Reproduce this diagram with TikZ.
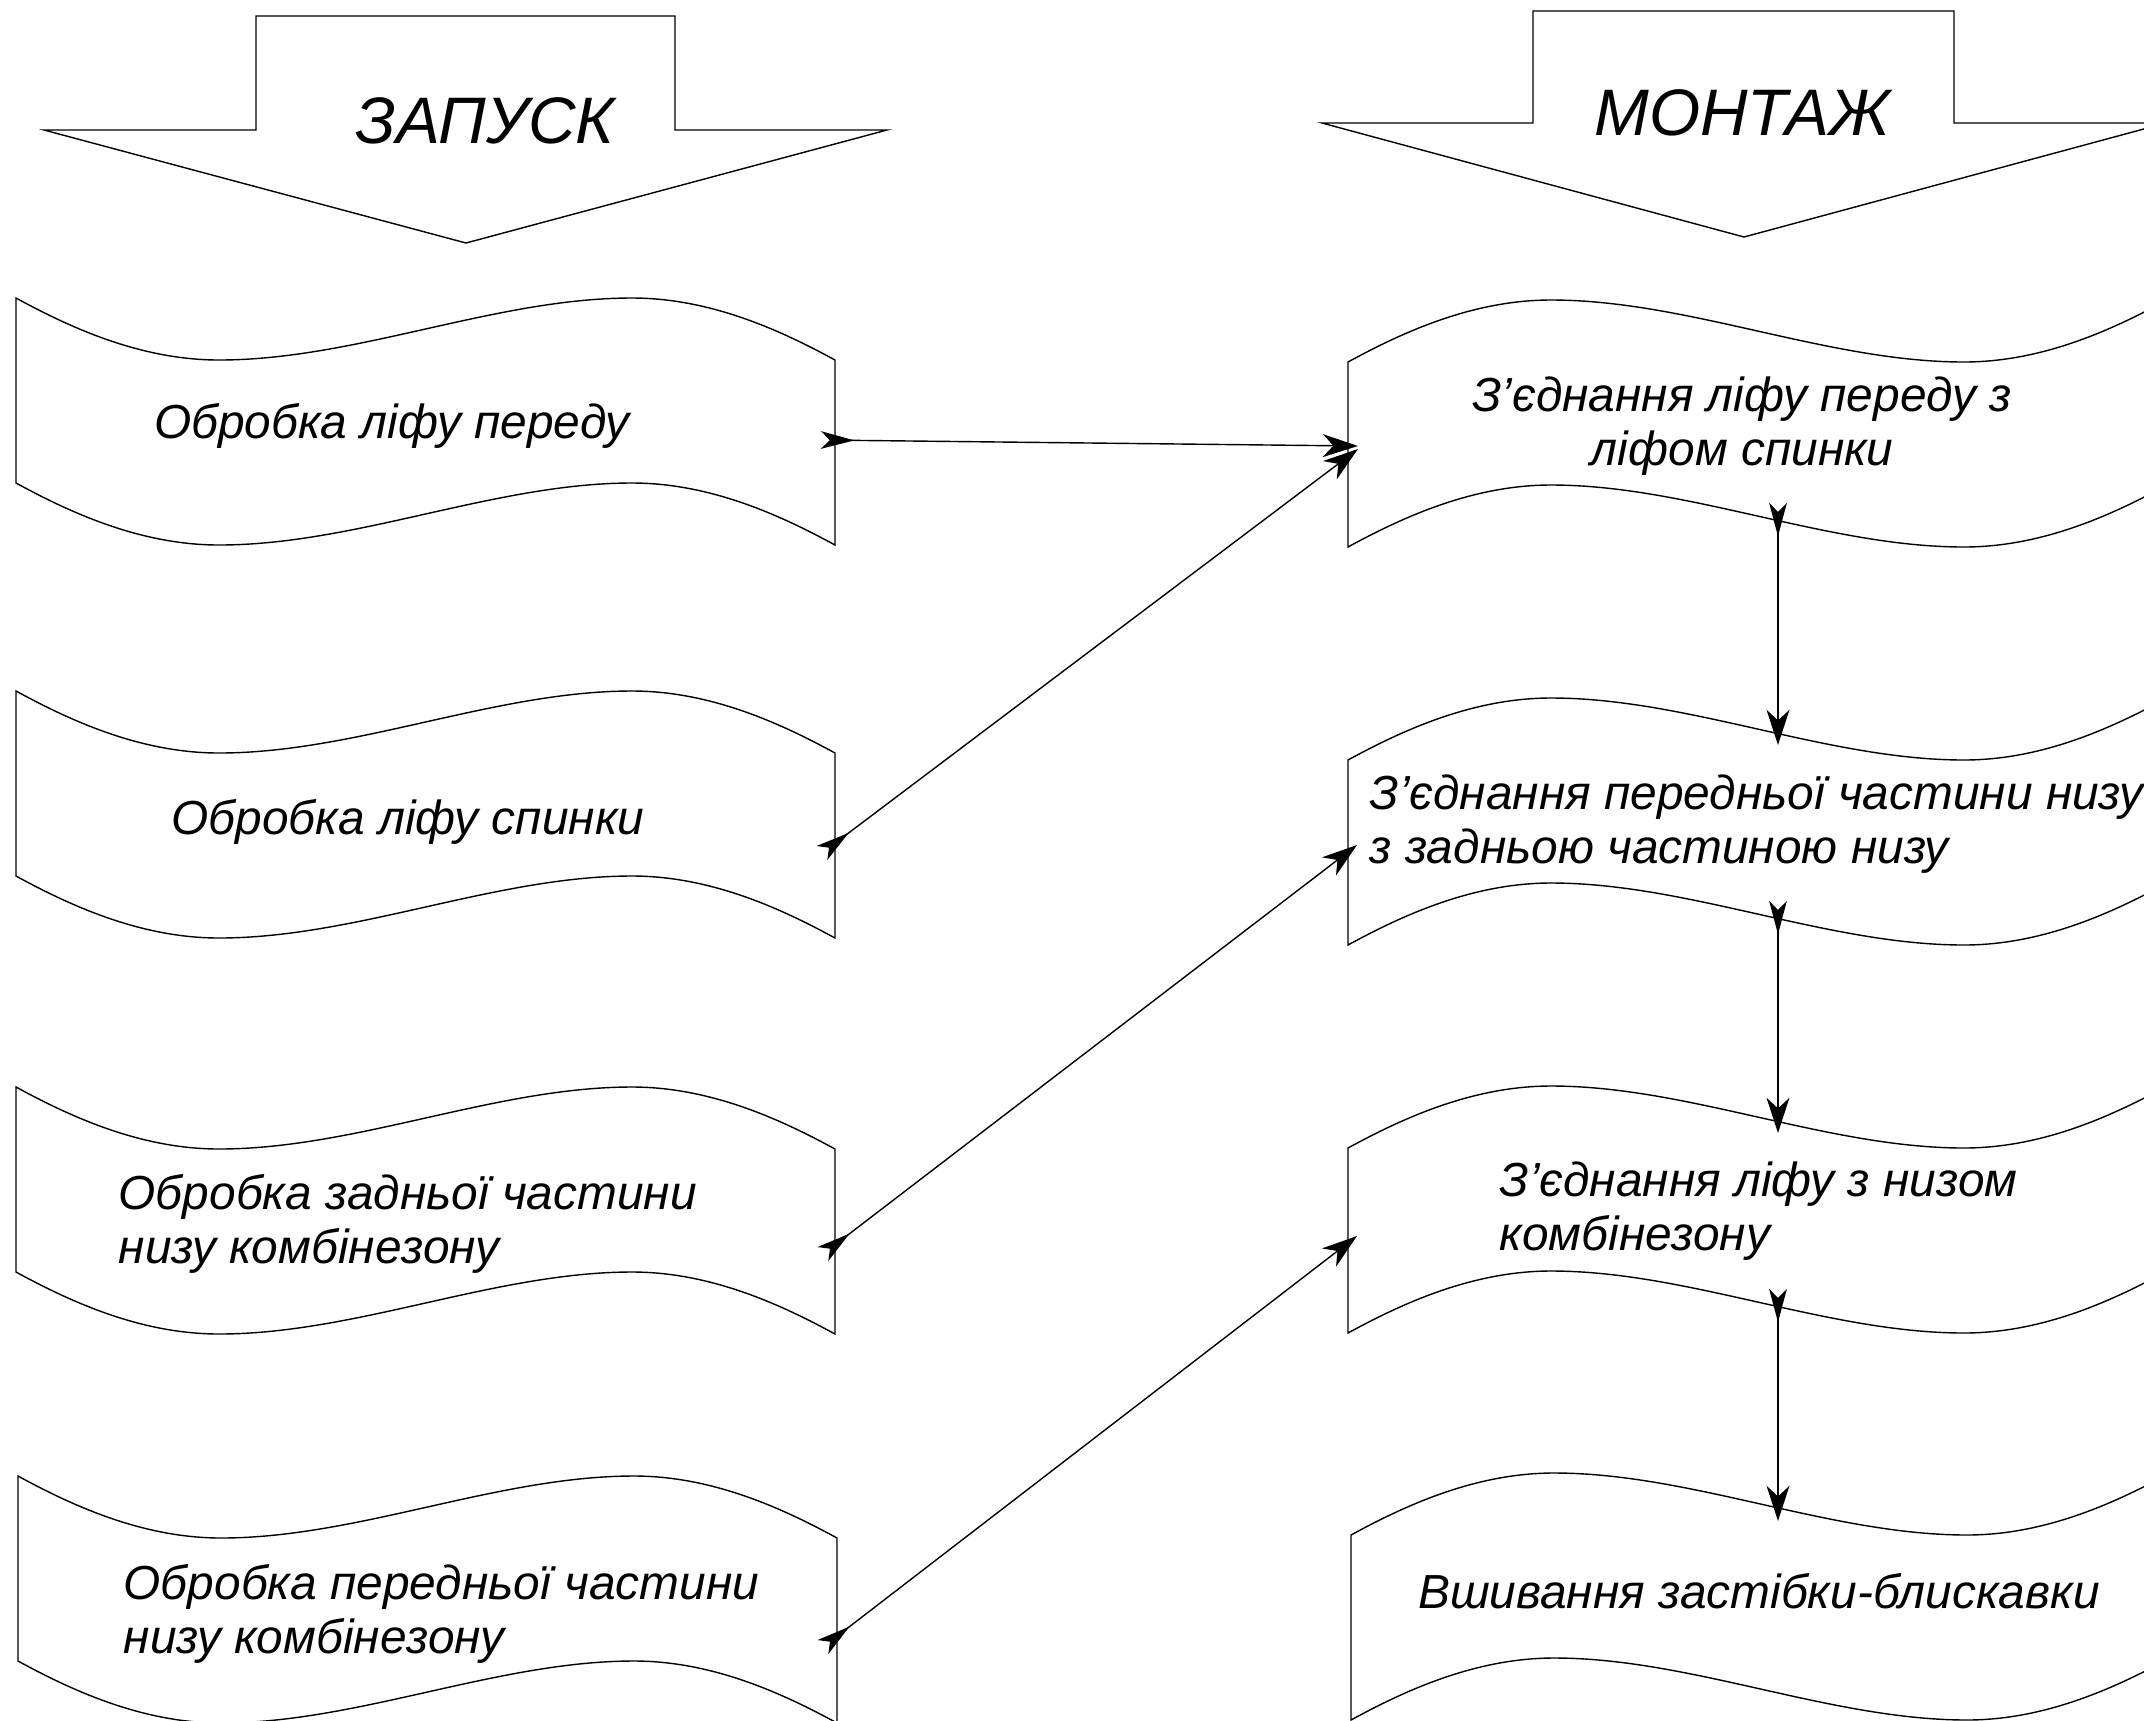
\documentclass[tikz,border=0pt]{standalone}
\usepackage{fontspec}
\setmainfont{Liberation Sans}
\usetikzlibrary{arrows.meta}
\newcommand\tapeleft[1]{%
  \draw[shp,shift={#1}] (0,0) .. controls (55,30) and (125,62) .. (203,62)
    .. controls (340,62) and (479,0) .. (616,0)
    .. controls (694,0) and (764,32) .. (819,62)
    -- (819,247)
    .. controls (764,217) and (694,185) .. (616,185)
    .. controls (479,185) and (340,247) .. (203,247)
    .. controls (125,247) and (55,215) .. (0,185)
    -- cycle;}
\newcommand\taperight[1]{%
  \draw[shp,shift={#1}] (0,62) .. controls (55,32) and (125,0) .. (203,0)
    .. controls (340,0) and (479,62) .. (616,62)
    .. controls (694,62) and (764,30) .. (819,0)
    -- (819,185)
    .. controls (764,215) and (694,247) .. (616,247)
    .. controls (479,247) and (340,185) .. (203,185)
    .. controls (125,185) and (55,217) .. (0,247)
    -- cycle;}
\begin{document}
\begin{tikzpicture}[x=0.01cm,y=-0.01cm,
  shp/.style={draw=black, line width=0.4pt, fill=white},
  conn/.style={draw=black, line width=0.4pt,
    {Stealth[reversed,length=9.5pt,width=5pt,inset=2.5pt,line width=0.6pt]}-{Stealth[length=10pt,width=6.5pt,inset=3pt,line width=0.6pt]}},
  lbl/.style={font=\fontsize{13.6}{15.2}\selectfont\itshape, inner sep=0pt},
  ttl/.style={font=\fontsize{18.7}{22}\selectfont\itshape, inner sep=0pt}]
\useasboundingbox (0,0) rectangle (2144,1720);
\clip (0,0) rectangle (2144,1720);
\fill[white] (0,0) rectangle (2144,1720);

% block arrows
\draw[shp] (256,16) -- (675,16) -- (675,130) -- (887,130) -- (466,243) -- (44,130) -- (256,130) -- cycle;
\draw[shp] (1533,11) -- (1954,11) -- (1954,123) -- (2166,123) -- (1744,237) -- (1322,123) -- (1533,123) -- cycle;
\node[ttl, anchor=base] (zap) at (485,143) {ЗАПУСК};
\node[ttl, anchor=base] (mon) at (1742,135) {МОНТАЖ};

% left tapes
\tapeleft{(16,298)}
\tapeleft{(16,691)}
\tapeleft{(16,1087)}
\tapeleft{(18,1476)}
% right tapes
\taperight{(1348,300)}
\taperight{(1348,698)}
\taperight{(1348,1086)}
\taperight{(1351,1473)}

% labels (multi-line nodes: base = last line)
\node[lbl, anchor=base] (L1) at (392,438) {Обробка ліфу переду};
\node[lbl, anchor=base] (L2) at (408,834) {Обробка ліфу спинки};
\node[lbl, anchor=base west, align=left] (L3) at (118,1263) {Обробка задньої частини\\низу комбінезону};
\node[lbl, anchor=base west, align=left] (L4) at (123,1653) {Обробка передньої частини\\низу комбінезону};
\node[lbl, anchor=base, align=center] (R1) at (1742,465) {З’єднання ліфу переду з\\ліфом спинки};
\node[lbl, anchor=base west, align=left] (R2) at (1369,863) {З’єднання передньої частини низу\\з задньою частиною низу};
\node[lbl, anchor=base west, align=left] (R3) at (1499,1250) {З’єднання ліфу з низом\\комбінезону};
\node[lbl, anchor=base] (R4) at (1759,1608) {Вшивання застібки-блискавки};

% connector end points
\coordinate (L1o) at (821,440);
\coordinate (L2o) at (822,853);
\coordinate (L3o) at (823,1254);
\coordinate (L4o) at (823,1647);
\coordinate (R1i) at (1358,446);
\coordinate (R1j) at (1358,449);
\coordinate (R2i) at (1357,845);
\coordinate (R3i) at (1357,1236);
\coordinate (R1b) at (1778,503);
\coordinate (R2t) at (1778,745);
\coordinate (R2b) at (1778,901);
\coordinate (R3t) at (1778,1133);
\coordinate (R3b) at (1778,1289);
\coordinate (R4t) at (1778,1521);

\draw[conn] (L1o) -- (R1i);
\draw[conn] (L2o) -- (R1j);
\draw[conn] (L3o) -- (R2i);
\draw[conn] (L4o) -- (R3i);
\draw[conn] (R1b) -- (R2t);
\draw[conn] (R2b) -- (R3t);
\draw[conn] (R3b) -- (R4t);
\end{tikzpicture}
\end{document}
